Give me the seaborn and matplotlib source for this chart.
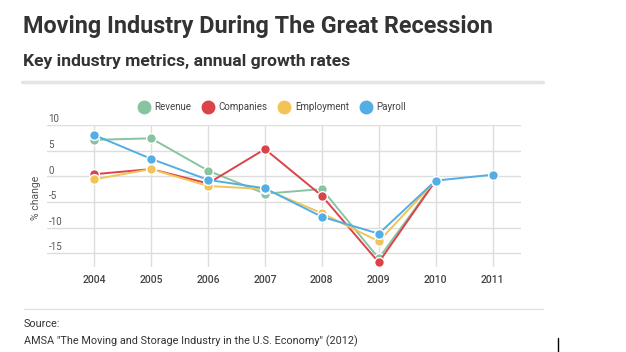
import numpy as np
import pandas as pd
import matplotlib.pyplot as plt
import seaborn as sns
from matplotlib.lines import Line2D

# Data (annual growth, %)
years = [2004, 2005, 2006, 2007, 2008, 2009, 2010, 2011]
revenue = [7.1, 7.4, 1.1, -3.4, -2.5, -16.0, -0.85, np.nan]
companies = [0.4, 1.4, -1.4, 5.3, -3.8, -16.8, -0.85, np.nan]
employment = [-0.6, 1.4, -1.9, -2.5, -7.2, -12.7, -0.85, np.nan]
payroll = [8.05, 3.4, -0.7, -2.35, -7.9, -11.2, -0.85, 0.3]

metrics = ['Revenue', 'Companies', 'Employment', 'Payroll']
colors = ['#88c4a0', '#dc4348', '#f2c458', '#52aee4']
y_ticks = [10, 5, 0, -5, -10, -15]

df = pd.DataFrame({'year': years, 'Revenue': revenue, 'Companies': companies,
                   'Employment': employment, 'Payroll': payroll})
long = df.melt(id_vars='year', var_name='metric', value_name='value').dropna()

sns.set_theme(style="white")
plt.rcParams['font.family'] = ['Roboto', 'DejaVu Sans']

fig = plt.figure(figsize=(6.26, 3.52), dpi=100)
ax = fig.add_axes([47 / 626, 1 - 267 / 352, 474 / 626, 142 / 352])

sns.lineplot(data=long, x='year', y='value', hue='metric', hue_order=metrics,
             palette=colors, marker='o', markersize=7, markeredgecolor='white',
             markeredgewidth=1, linewidth=1.4, legend=False, ax=ax, zorder=3)

ax.set_xlim(2004 - 0.83, 2011 + 0.5)
ax.set_ylim(-17.7, 10)
ax.set_xticks(years)
ax.set_xticklabels([str(y) for y in years], fontsize=7.5, color='#444444', fontweight='medium')
ax.set_yticks(y_ticks)
ax.set_yticklabels([])
ax.tick_params(axis='both', length=0, pad=6)
ax.grid(True, color='#dddddd', linewidth=1)
for s in ax.spines.values():
    s.set_visible(False)
ax.set_xlabel('')
ax.set_ylabel('')

# y tick labels sit above the gridlines
for v in y_ticks:
    ax.annotate(str(v), xy=(0, v), xycoords=ax.get_yaxis_transform(),
                xytext=(1, 0.5), textcoords='offset points', fontsize=7,
                color='#555555', ha='left', va='bottom')

fig.text(36 / 626, 1 - 198 / 352, '% change', rotation=90, fontsize=7.5,
         color='#555555', ha='center', va='center')

# legend
handles = [Line2D([], [], marker='o', linestyle='', markersize=9, color=c,
                  markeredgecolor=c) for c in colors]
fig.legend(handles, metrics, loc='center', bbox_to_anchor=(270 / 626, 1 - 107 / 352),
           ncol=4, frameon=False, fontsize=7, handletextpad=0.1, columnspacing=0.7,
           labelcolor='#444444')

# titles
fig.text(23 / 626, 1 - 33 / 352, 'Moving Industry During The Great Recession',
         fontsize=16.8, fontweight='bold', color='#333333', va='baseline')
fig.text(23 / 626, 1 - 66 / 352, 'Key industry metrics, annual growth rates',
         fontsize=12.6, fontweight='bold', color='#333333', va='baseline')
fig.add_artist(Line2D([22 / 626, 543 / 626], [1 - 81.5 / 352] * 2, color='#e4e4e4',
                      linewidth=2.5, transform=fig.transFigure))

# source
fig.add_artist(Line2D([24 / 626, 543 / 626], [1 - 309 / 352] * 2, color='#e2e2e2',
                      linewidth=1, transform=fig.transFigure))
fig.text(24 / 626, 1 - 327 / 352, 'Source:', fontsize=7.8, color='#333333', va='baseline')
fig.text(24 / 626, 1 - 344 / 352,
         'AMSA "The Moving and Storage Industry in the U.S. Economy" (2012)',
         fontsize=7.8, color='#333333', va='baseline')
fig.add_artist(Line2D([558 / 626] * 2, [1 - 338 / 352, 0], color='black',
                      linewidth=1, transform=fig.transFigure))

fig.savefig('out.png', dpi=100)
